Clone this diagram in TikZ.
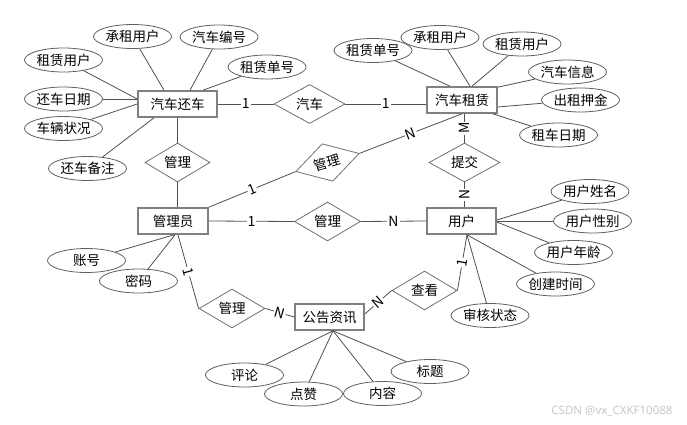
\documentclass[tikz,border=0pt]{standalone}
\usepackage{fontspec}
\setmainfont{Noto Sans CJK SC}
\newfontfamily\wmfont{Noto Sans}
\usetikzlibrary{shapes.geometric,calc}
\definecolor{edgec}{HTML}{505050}
\definecolor{entc}{HTML}{808080}
\definecolor{attrc}{HTML}{606060}
\definecolor{relc}{HTML}{707070}
\definecolor{wmc}{HTML}{C8C8C8}
\begin{document}
\begin{tikzpicture}[x=1pt,y=-1pt,
  every node/.style={font=\fontsize{13.5}{16}\selectfont, text=black},
  ent/.style={draw=entc, line width=1.6pt, rectangle, minimum height=26pt, inner sep=0pt},
  attr/.style={draw=attrc, line width=0.8pt, ellipse, minimum width=78pt, minimum height=24pt, inner sep=0pt},
  rel/.style={draw=relc, line width=0.8pt, diamond, aspect=1.7, minimum width=66pt, minimum height=39pt, inner sep=0pt},
  conn/.style={draw=edgec, line width=0.8pt},
  card/.style={fill=white, inner sep=1pt, font=\fontsize{14}{16}\selectfont}
]
\useasboundingbox[fill=white] (0,0) rectangle (687,425);

% entities
\node[ent, minimum width=79pt] (hc) at (177.5,104) {汽车还车};
\node[ent, minimum width=70pt] (zl) at (462,100) {汽车租赁};
\node[ent, minimum width=70pt] (gly) at (173,221) {管理员};
\node[ent, minimum width=69pt] (yh) at (461.5,221) {用户};
\node[ent, minimum width=69pt] (gg) at (329.5,317) {公告资讯};

% relations
\node[rel, minimum width=71pt] (r1) at (309.5,104) {汽车};
\node[rel, minimum width=65pt] (r2) at (177.5,162.5) {管理};
\node[rel, rotate=16] (r3) at (327.5,162.5) {管理};
\node[rel, minimum width=71pt] (r4) at (464.5,162.5) {提交};
\node[rel] (r5) at (327.5,221.5) {管理};
\node[rel] (r6) at (232,308.5) {管理};
\node[rel, minimum width=65pt] (r7) at (424.5,290.5) {查看};

% attributes
\node[attr] (a1) at (132.5,36.5) {承租用户};
\node[attr] (a2) at (219,37) {汽车编号};
\node[attr] (a3) at (63.5,60) {租赁用户};
\node[attr] (a4) at (267,67) {租赁单号};
\node[attr] (a5) at (63.5,99) {还车日期};
\node[attr] (a6) at (63.5,128.5) {车辆状况};
\node[attr] (a7) at (87.5,168.5) {还车备注};
\node[attr] (b1) at (373,50.5) {租赁单号};
\node[attr] (b2) at (440,37.5) {承租用户};
\node[attr] (b3) at (522,44) {租赁用户};
\node[attr] (b4) at (567.5,72) {汽车信息};
\node[attr] (b5) at (580.5,100) {出租押金};
\node[attr] (b6) at (558.5,135) {租车日期};
\node[attr] (c1) at (590,191.5) {用户姓名};
\node[attr] (c2) at (592.5,221) {用户性别};
\node[attr] (c3) at (573.5,252.5) {用户年龄};
\node[attr] (c4) at (555.5,284) {创建时间};
\node[attr] (c5) at (490,315.5) {审核状态};
\node[attr] (d1) at (86.5,260.5) {账号};
\node[attr] (d2) at (138.5,281) {密码};
\node[attr] (e1) at (244.5,375) {评论};
\node[attr] (e2) at (303.5,394) {点赞};
\node[attr] (e3) at (382.5,393.5) {内容};
\node[attr] (e4) at (430,371.5) {标题};

% attribute lines
\draw[conn] (a1) -- ($(hc.north)+(-13.5,0)$);
\draw[conn] (a2) -- ($(hc.north)+(12.5,0)$);
\draw[conn] (a4) -- ($(hc.north)+(25.5,0)$);
\draw[conn] (a3) -- ($(hc.west)+(0,-5)$);
\draw[conn] (a5) -- ($(hc.west)+(0,-5)$);
\draw[conn] (a6) -- (hc.west);
\draw[conn] (a7) -- ($(hc.south)+(-23.5,0)$);

\draw[conn] (b1) -- ($(zl.north)+(-12,0)$);
\draw[conn] (b2) -- ($(zl.north)+(8,0)$);
\draw[conn] (b3) -- ($(zl.north)+(10,0)$);
\draw[conn] (b4) -- ($(zl.north east)+(0,1)$);
\draw[conn] (b5) -- ($(zl.east)+(0,7)$);
\draw[conn] (b6) -- ($(zl.south east)+(-5,0)$);

\draw[conn] (c1) -- ($(yh.east)+(0,-1)$);
\draw[conn] (c2) -- (yh.east);
\draw[conn] (c3) -- ($(yh.east)+(0,1)$);
\draw[conn] (c4) -- ($(yh.south)+(5.5,0)$);
\draw[conn] (c5) -- ($(yh.south)+(5.5,0)$);

\draw[conn] (d1) -- ($(gly.south)+(1,0)$);
\draw[conn] (d2) -- ($(gly.south)+(2,0)$);

\coordinate (ggb) at ($(gg.south)+(3.5,0)$);
\draw[conn] (e1) -- (ggb);
\draw[conn] (e2) -- (ggb);
\draw[conn] (e3) -- (ggb);
\draw[conn] (e4) -- (ggb);

% relationship lines
\draw[conn] (hc.east) -- node[card] {1} (r1.west);
\draw[conn] (r1.east) -- node[card] {1} (r1.east -| zl.west);
\draw[conn] (hc.south) -- (r2.north);
\draw[conn] (r2.south) -- (r2.south |- gly.north);
\draw[conn] (gly.north east) -- node[card, sloped] {1} (r3.west);
\draw[conn] (r3.east) -- node[card, sloped] {N} (zl.south);
\draw[conn] (r4.north) -- node[card, sloped] {M} (r4.north |- zl.south);
\draw[conn] (r4.south) -- node[card, sloped] {N} (r4.south |- yh.north);
\draw[conn] (gly.east) -- node[card] {1} (r5.west);
\draw[conn] (r5.east) -- node[card] {N} (yh.west);
\draw[conn] ($(gly.south)+(5,0)$) -- node[card, sloped] {1} (r6.west);
\draw[conn] (r6.east) -- node[card, sloped] {N} (gg.west);
\draw[conn] ($(gg.east)+(0,-3)$) -- node[card, sloped] {N} (r7.west);
\draw[conn] (r7.east) -- node[card, sloped] {1} ($(yh.south)+(5.5,0)$);

% watermark
\node[font=\wmfont\fontsize{11.5}{13}\selectfont, text=wmc, inner sep=0pt] (wm) at (612,411) {CSDN @vx\_CXKF10088};
\end{tikzpicture}
\end{document}
